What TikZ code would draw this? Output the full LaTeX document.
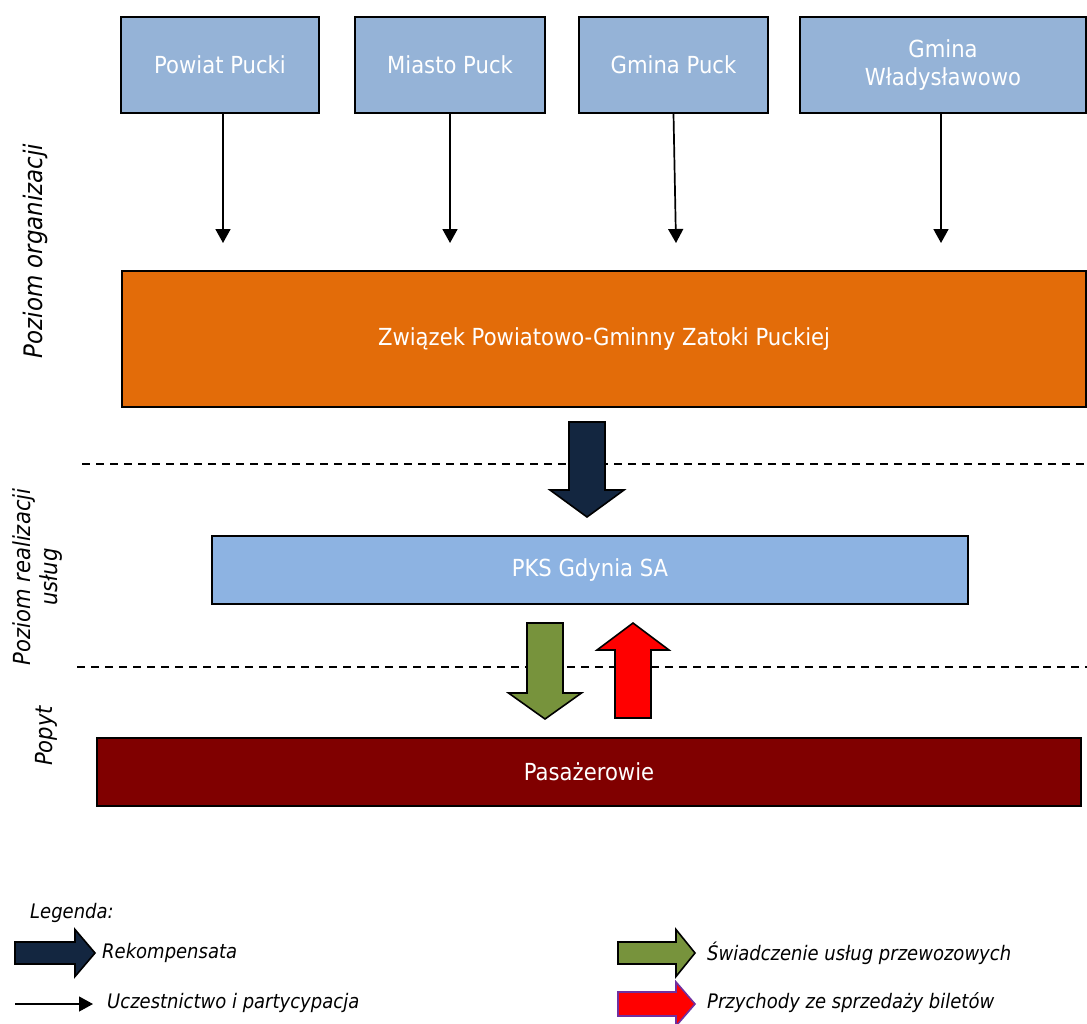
\documentclass[tikz,border=0pt]{standalone}
\usepackage{fontspec}
\setmainfont{DejaVu Sans}[FakeStretch=0.9]
\usetikzlibrary{arrows.meta,positioning,calc}

\definecolor{unitblue}{HTML}{95B3D7}
\definecolor{pksblue}{HTML}{8DB3E2}
\definecolor{orgorange}{HTML}{E36C09}
\definecolor{paxred}{HTML}{800000}
\definecolor{navy}{HTML}{132640}
\definecolor{olive}{HTML}{77933C}
\definecolor{legendpurple}{HTML}{7030A0}

\tikzset{
  pics/fatarrow/.style n args={4}{code={
    \path[pic actions] (0,-#2) -- (#1,-#2) -- (#1,-#3) -- ({#1+#4},0)
      -- (#1,#3) -- (#1,#2) -- (0,#2) -- cycle;}}
}

\begin{document}
\begin{tikzpicture}[x=1pt, y=-1pt,
  box/.style = {rectangle, draw=black, line width=1.4pt, text=white, align=center, inner sep=2pt,
        font=\fontsize{23.5}{28}\selectfont},
  unitbox/.style = {box, fill=unitblue, minimum height=96pt},
  levellabel/.style = {rotate=90, align=center, inner sep=0pt, font=\fontsize{23.5}{27}\selectfont\itshape},
  legendtext/.style = {anchor=west, inner sep=0pt, font=\fontsize{20}{24}\selectfont\itshape},
  member/.style = {line width=1.7pt, -{Triangle[length=14pt,width=15pt]}},
  separator/.style = {line width=1.5pt, dash pattern=on 8pt off 6pt},
  fat/.style = {draw=black, line width=1.6pt}]
\useasboundingbox (0,0) rectangle (1087,1023);

% members of the union
\node [unitbox, minimum width=198pt] (powiat) at (220,65) {Powiat Pucki};
\node [unitbox, minimum width=190pt] (miasto) at (450,65) {Miasto Puck};
\node [unitbox, minimum width=189pt] (gpuck) at (673.5,65) {Gmina Puck};
\node [unitbox, minimum width=286pt] (gwlad) at (943,65) {Gmina\\Władysławowo};

\coordinate (t1) at (223,243);
\coordinate (t2) at (450,243);
\coordinate (t3) at (676,243);
\coordinate (t4) at (941,243);
\draw [member] (t1 |- powiat.south) -- (t1);
\draw [member] (miasto.south) -- (t2);
\draw [member] (gpuck.south) -- (t3);
\draw [member] (t4 |- gwlad.south) -- (t4);

% levels
\node [box, fill=orgorange, minimum width=964pt, minimum height=136pt] (zpg) at (604,339)
    {Związek Powiatowo-Gminny Zatoki Puckiej};
\node [box, fill=pksblue, minimum width=756pt, minimum height=68pt] (pks) at (590,570) {PKS Gdynia SA};
\node [box, fill=paxred, minimum width=984pt, minimum height=68pt] (pax) at (589,772) {Pasażerowie};

\draw [separator] (82,464) -- (1087,464);
\draw [separator] (77,667) -- (1087,667);

\node [levellabel, font=\fontsize{25.5}{27}\selectfont\itshape] (lorg) at (35,251) {Poziom organizacji};
\node [levellabel] (lreal) at (38,577) {Poziom realizacji\\usług};
\node [levellabel] (lpop) at (46,736) {Popyt};

% flows
\pic [fat, fill=navy, rotate=-90] at (587,422) {fatarrow={68}{18}{37}{27}};
\pic [fat, fill=olive, rotate=-90] at (545,623) {fatarrow={70}{18}{36.5}{26}};
\pic [fat, fill=red, rotate=90] at (633,718) {fatarrow={68}{18}{36}{27}};

% legend
\node [legendtext] (leg) at (30,913) {Legenda:};
\pic [fat, fill=navy] at (15,953) {fatarrow={60}{11}{23.5}{20}};
\node [legendtext] (lrek) at (102,953) {Rekompensata};
\coordinate (m0) at (15,1004);
\coordinate (m1) at (93,1004);
\draw [member, line width=1.3pt] (m0) -- (m1);
\node [legendtext] (lucz) at (107,1003) {Uczestnictwo i partycypacja};
\pic [fat, fill=olive] at (618,953) {fatarrow={58}{11}{23.5}{19}};
\node [legendtext] (lswi) at (707,953) {Świadczenie usług przewozowych};
\pic [fat, draw=legendpurple, fill=red] at (618,1004) {fatarrow={58}{12}{22}{19}};
\node [legendtext] (lprz) at (707,1003) {Przychody ze sprzedaży biletów};
\end{tikzpicture}
\end{document}
